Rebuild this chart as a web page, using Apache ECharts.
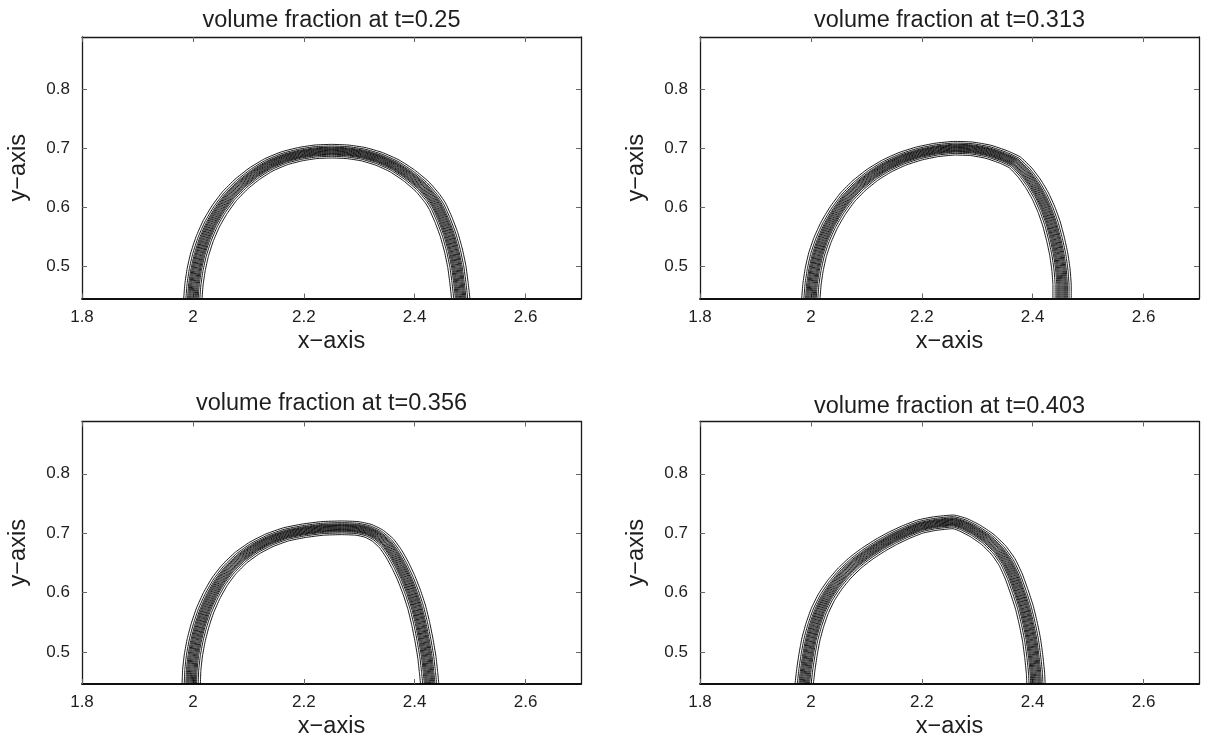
<!DOCTYPE html>
<html>
<head>
<meta charset="utf-8">
<title>volume fraction</title>
<script src="https://cdn.jsdelivr.net/npm/echarts@6/dist/echarts.min.js"></script>
<style>
  html, body { margin: 0; padding: 0; background: #fff; }
  #chart { width: 1212px; height: 742px; }
</style>
</head>
<body>
<div id="chart"></div>
<script>
// Axis ranges and tick labels shared by the four panels
const X_RANGE = [1.8, 2.7];
const Y_RANGE = [0.446, 0.888];
const X_TICKS = [1.8, 2, 2.2, 2.4, 2.6];
const Y_TICKS = [0.5, 0.6, 0.7, 0.8];

// Output times of the four snapshots
const TIMES = ['0.25', '0.313', '0.356', '0.403'];

// Interface (volume fraction = 0.5) of the drop at each time, [x, y]
const interface_t025 = [
  [2.000, 0.430], [2.000, 0.446], [2.002, 0.470], [2.006, 0.495], [2.012, 0.520],
  [2.021, 0.546], [2.033, 0.572], [2.048, 0.596], [2.066, 0.619], [2.087, 0.639],
  [2.111, 0.657], [2.137, 0.672], [2.165, 0.683], [2.194, 0.690], [2.222, 0.694],
  [2.250, 0.695], [2.278, 0.694], [2.307, 0.690], [2.336, 0.682], [2.364, 0.670],
  [2.390, 0.654], [2.414, 0.635], [2.432, 0.615], [2.441, 0.602], [2.452, 0.579],
  [2.462, 0.554], [2.470, 0.527], [2.476, 0.500], [2.480, 0.472], [2.483, 0.446],
  [2.483, 0.430]
];
const interface_t0313 = [
  [2.000, 0.430], [2.000, 0.446], [2.002, 0.470], [2.006, 0.495], [2.012, 0.520],
  [2.021, 0.545], [2.033, 0.570], [2.048, 0.594], [2.066, 0.617], [2.087, 0.637],
  [2.111, 0.655], [2.137, 0.670], [2.165, 0.682], [2.195, 0.691], [2.226, 0.697],
  [2.258, 0.700], [2.290, 0.699], [2.320, 0.694], [2.348, 0.685], [2.368, 0.676],
  [2.386, 0.659], [2.401, 0.640], [2.414, 0.619], [2.425, 0.596], [2.434, 0.572],
  [2.441, 0.547], [2.447, 0.521], [2.451, 0.495], [2.453, 0.470], [2.453, 0.446],
  [2.453, 0.430]
];
const interface_t0356 = [
  [1.997, 0.430], [1.997, 0.446], [1.998, 0.470], [2.001, 0.495], [2.006, 0.520],
  [2.013, 0.545], [2.022, 0.570], [2.034, 0.595], [2.048, 0.618], [2.066, 0.640],
  [2.087, 0.659], [2.111, 0.675], [2.138, 0.688], [2.168, 0.698], [2.200, 0.704],
  [2.234, 0.708], [2.268, 0.709], [2.296, 0.708], [2.316, 0.704], [2.333, 0.696],
  [2.349, 0.683], [2.362, 0.666], [2.374, 0.646], [2.385, 0.624], [2.395, 0.600],
  [2.404, 0.574], [2.411, 0.547], [2.417, 0.519], [2.422, 0.491], [2.425, 0.466],
  [2.427, 0.446], [2.427, 0.430]
];
const interface_t0403 = [
  [1.988, 0.430], [1.988, 0.446], [1.991, 0.471], [1.995, 0.496], [2.000, 0.521],
  [2.007, 0.545], [2.016, 0.569], [2.028, 0.592], [2.043, 0.613], [2.060, 0.632],
  [2.080, 0.650], [2.101, 0.665], [2.124, 0.679], [2.147, 0.691], [2.172, 0.702],
  [2.197, 0.711], [2.223, 0.716], [2.257, 0.719], [2.275, 0.714], [2.296, 0.704],
  [2.318, 0.690], [2.338, 0.672], [2.354, 0.651], [2.366, 0.627], [2.376, 0.601],
  [2.385, 0.575], [2.392, 0.548], [2.398, 0.520], [2.402, 0.492], [2.405, 0.465],
  [2.406, 0.446], [2.406, 0.430]
];
const INTERFACES = [interface_t025, interface_t0313, interface_t0356, interface_t0403];

// Contour levels: signed distance of each level from the interface,
// as a fraction of the half thickness of the diffuse layer
const CONTOUR_LEVELS = [
  -1, -0.76, -0.58, -0.46, -0.35, -0.24, -0.12, 0,
  0.12, 0.24, 0.35, 0.46, 0.58, 0.76, 1
];
// Half thickness of the diffuse layer across x and across y (data units)
const LAYER_HALF_WIDTH = [0.0165, 0.0115];

// Panel placement (pixels) and title offsets
const PANELS = [
  { left: 82,  top: 37,    width: 499, height: 261.5, titleTop: 8.5 },
  { left: 700, top: 37,    width: 499, height: 261.5, titleTop: 8.5 },
  { left: 82,  top: 421.5, width: 499, height: 262.5, titleTop: 391.5 },
  { left: 700, top: 421.5, width: 499, height: 262.5, titleTop: 395 }
];

const FONT = "'Liberation Sans', Arial, Helvetica, sans-serif";
const TEXT_COLOR = '#1e1e1e';

function contourRenderer(curve) {
  return function (params, api) {
    const level = api.value(0);
    const pts = curve.map(function (p) { return api.coord(p); });
    const w = api.size(LAYER_HALF_WIDTH);
    const n = pts.length;
    const out = pts.map(function (p, i) {
      const a = pts[Math.max(i - 1, 0)];
      const b = pts[Math.min(i + 1, n - 1)];
      let tx = b[0] - a[0], ty = b[1] - a[1];
      const len = Math.hypot(tx, ty) || 1;
      tx /= len; ty /= len;
      // the curve runs from the left foot over the crest to the right foot,
      // so (ty, -tx) points out of the drop
      return [p[0] + level * ty * w[0], p[1] - level * tx * w[1]];
    });
    const cs = params.coordSys;
    return {
      type: 'polyline',
      shape: { points: out, smooth: 0.15 },
      style: { stroke: '#000', fill: null, lineWidth: 0.9 },
      clipPath: { type: 'rect', shape: { x: cs.x, y: cs.y, width: cs.width, height: cs.height } }
    };
  };
}

const grid = [], xAxis = [], yAxis = [], title = [], series = [];

PANELS.forEach(function (p, k) {
  grid.push({ left: p.left, top: p.top, width: p.width, height: p.height, containLabel: false });

  title.push({
    text: 'volume fraction at t=' + TIMES[k],
    left: p.left + p.width / 2,
    top: p.titleTop,
    textAlign: 'center',
    padding: 0,
    textStyle: { fontFamily: FONT, fontSize: 23.5, fontWeight: 'normal', color: TEXT_COLOR }
  });

  const frame = { show: true, onZero: false, lineStyle: { color: '#1a1a1a', width: 1.3 } };
  const tick = { show: true, inside: true, length: 5, lineStyle: { color: '#666', width: 1 } };

  // bottom x axis with labels
  xAxis.push({
    type: 'value', gridIndex: k, position: 'bottom',
    min: X_RANGE[0], max: X_RANGE[1],
    name: 'x\u2212axis', nameLocation: 'middle', nameGap: 31,
    nameTextStyle: { fontFamily: FONT, fontSize: 23.5, color: TEXT_COLOR },
    axisLine: { show: true, onZero: false, lineStyle: { color: '#111', width: 1.8 } },
    axisTick: Object.assign({}, tick, { customValues: X_TICKS }),
    axisLabel: {
      customValues: X_TICKS, margin: 10,
      fontFamily: FONT, fontSize: 17, color: TEXT_COLOR,
      formatter: function (v) { return String(v); }
    },
    splitLine: { show: false }
  });
  // top x axis: frame and ticks only
  xAxis.push({
    type: 'value', gridIndex: k, position: 'top',
    min: X_RANGE[0], max: X_RANGE[1],
    axisLine: frame,
    axisTick: Object.assign({}, tick, { customValues: X_TICKS }),
    axisLabel: { show: false },
    splitLine: { show: false }
  });
  // left y axis with labels
  yAxis.push({
    type: 'value', gridIndex: k, position: 'left',
    min: Y_RANGE[0], max: Y_RANGE[1],
    name: 'y\u2212axis', nameLocation: 'middle', nameGap: 51, nameRotate: 90,
    nameTextStyle: { fontFamily: FONT, fontSize: 23.5, color: TEXT_COLOR },
    axisLine: frame,
    axisTick: Object.assign({}, tick, { customValues: Y_TICKS }),
    axisLabel: {
      customValues: Y_TICKS, margin: 12,
      fontFamily: FONT, fontSize: 17, color: TEXT_COLOR,
      formatter: function (v) { return String(v); }
    },
    splitLine: { show: false }
  });
  // right y axis: frame and ticks only
  yAxis.push({
    type: 'value', gridIndex: k, position: 'right',
    min: Y_RANGE[0], max: Y_RANGE[1],
    axisLine: frame,
    axisTick: Object.assign({}, tick, { customValues: Y_TICKS }),
    axisLabel: { show: false },
    splitLine: { show: false }
  });

  series.push({
    type: 'custom',
    name: 't=' + TIMES[k],
    coordinateSystem: 'cartesian2d',
    xAxisIndex: 2 * k,
    yAxisIndex: 2 * k,
    clip: true,
    silent: true,
    renderItem: contourRenderer(INTERFACES[k]),
    data: CONTOUR_LEVELS.map(function (v) { return [v]; })
  });
});

const chart = echarts.init(document.getElementById('chart'), null, { renderer: 'canvas' });
chart.setOption({
  animation: false,
  backgroundColor: '#ffffff',
  title: title,
  grid: grid,
  xAxis: xAxis,
  yAxis: yAxis,
  series: series
});
</script>
</body>
</html>
